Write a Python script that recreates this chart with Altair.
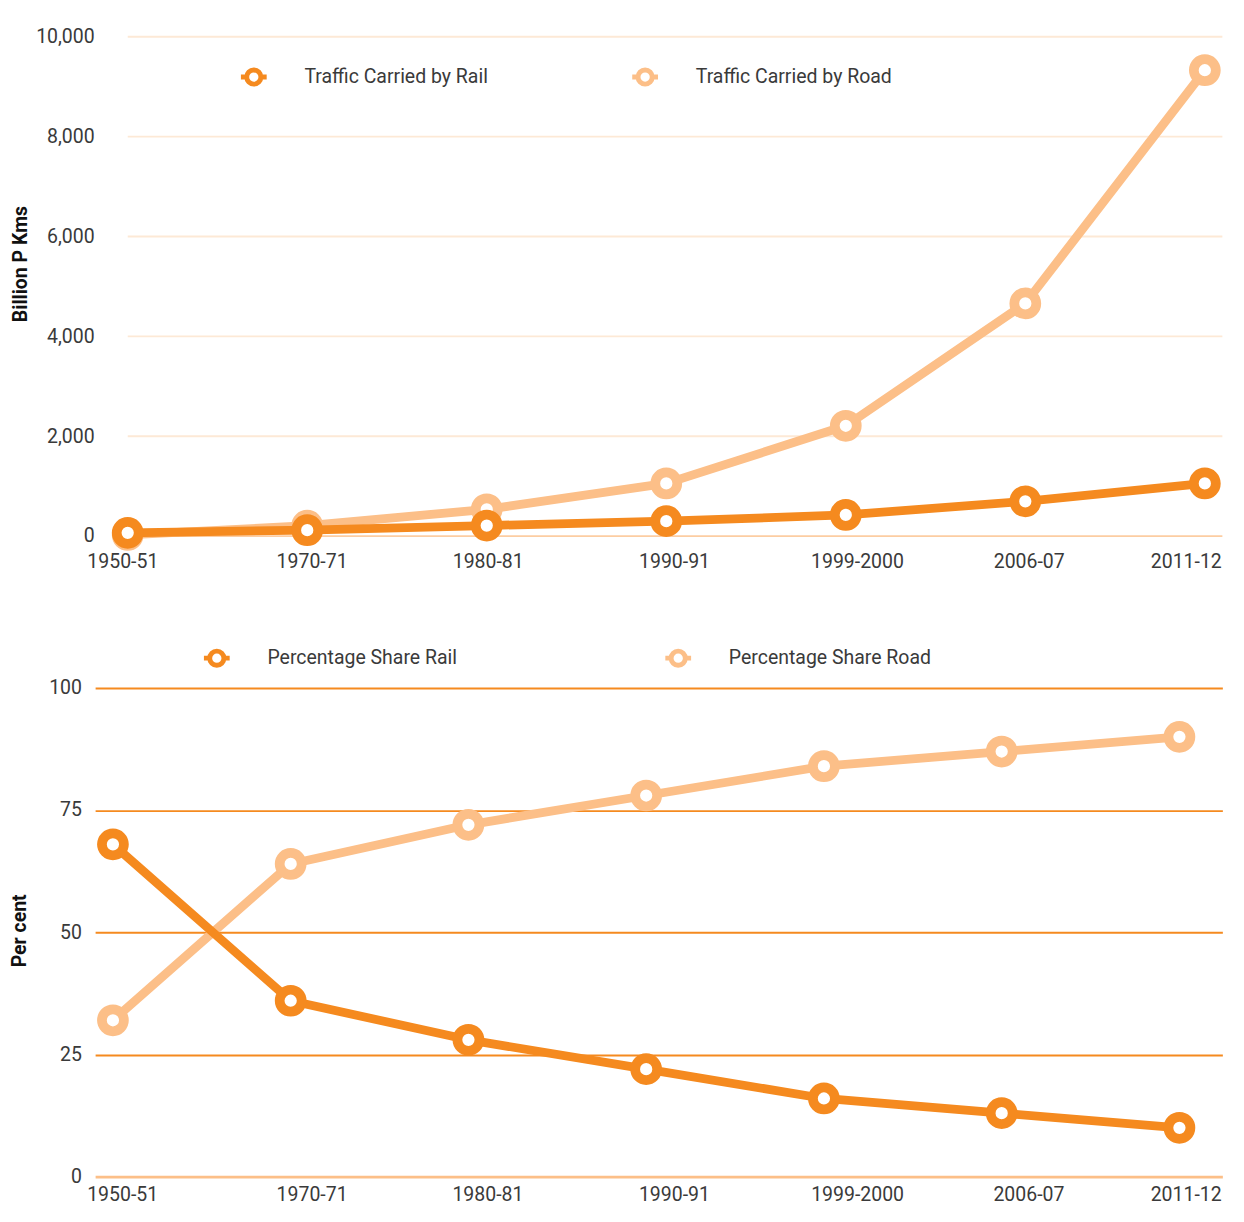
import altair as alt
import pandas as pd

periods = ["1950-51", "1970-71", "1980-81", "1990-91", "1999-2000", "2006-07", "2011-12"]
rail_bpkm = [66, 119, 212, 300, 425, 697, 1055]
road_bpkm = [23, 210, 537, 1055, 2210, 4660, 9330]
rail_share = [68, 36, 28, 22, 16, 13, 10]
road_share = [32, 64, 72, 78, 84, 87, 90]
top_series = ["Traffic Carried by Rail", "Traffic Carried by Road"]
bottom_series = ["Percentage Share Rail", "Percentage Share Road"]
top_ticks = [0, 2000, 4000, 6000, 8000, 10000]
bottom_ticks = [0, 25, 50, 75, 100]

RAIL = "#F58A1F"
ROAD = "#FCBF88"
GRID_LIGHT = "#FDE9D6"
ZERO_LIGHT = "#FCCDA2"
TEXT = "#3a3a3a"
FONT = "Roboto"

top_df = pd.DataFrame({
    "period": periods * 2,
    "value": rail_bpkm + road_bpkm,
    "series": [top_series[0]] * 7 + [top_series[1]] * 7,
})
bot_df = pd.DataFrame({
    "period": periods * 2,
    "value": rail_share + road_share,
    "series": [bottom_series[0]] * 7 + [bottom_series[1]] * 7,
})
grid_df = pd.DataFrame({"value": top_ticks})
label_df = pd.DataFrame({"period": periods})

SYM = ("M -1 0 L -0.55 0 M 0.55 0 L 1 0 "
       "M 0.55 0 A 0.55 0.55 0 1 1 -0.55 0 A 0.55 0.55 0 1 1 0.55 0 Z")

W = 1158
H_TOP = 513
H_BOT = 502

# label nudges (style only): horizontal shift of each period label from its point
TOP_DX = [-5, 5, 1.5, 8.5, 12, 4, 17.4]
BOT_DX = [10, 22, 20, 29, 34.6, 28, 43.4]


def make_legend(x, y, pad):
    return alt.Legend(
        title=None, orient="none", legendX=x, legendY=y, direction="horizontal",
        symbolType=SYM, symbolSize=700, symbolStrokeWidth=5, symbolFillColor="white",
        labelFontSize=20, labelFont=FONT, labelColor=TEXT, labelOffset=36, labelLimit=400,
        columnPadding=pad, symbolOpacity=1,
    )


def panel(df, series, yscale, yaxis, xscale, legend, pre_layers, label_y, dxs):
    x = alt.X("period:N", sort=periods, scale=xscale, axis=None)
    y = alt.Y("value:Q", scale=yscale, axis=yaxis)
    color = alt.Color("series:N", scale=alt.Scale(domain=series, range=[RAIL, ROAD]),
                      legend=legend)
    layers = list(pre_layers)
    for s in [series[1], series[0]]:
        base = alt.Chart(df).transform_filter(alt.datum.series == s)
        layers.append(base.mark_line(strokeWidth=9, strokeJoin="round").encode(x=x, y=y, color=color))
        layers.append(base.mark_point(shape="circle", filled=False, fill="white", size=510,
                                      strokeWidth=10, opacity=1).encode(x=x, y=y, color=color))
    for i, p in enumerate(periods):
        align = "right" if i == len(periods) - 1 else "center"
        layers.append(
            alt.Chart(label_df).transform_filter(alt.datum.period == p).mark_text(
                dx=dxs[i], align=align, baseline="middle", fontSize=20, font=FONT, color=TEXT
            ).encode(x=x, y=alt.value(label_y), text="period:N")
        )
    return alt.layer(*layers)


# ---------- top panel ----------
top_xscale = alt.Scale(type="point", domain=periods, padding=0.1396, align=0.650)
top_yscale = alt.Scale(domain=[0, 10000], nice=False)
top_yaxis = alt.Axis(values=top_ticks, labelExpr="format(datum.value, ',')",
                     grid=False, domain=False, ticks=False,
                     labelFontSize=20, labelPadding=1, title="Billion P Kms",
                     titleFontSize=20, titleFontWeight="bold", titlePadding=5, titleY=233)
grid_layer = alt.Chart(grid_df).mark_rule(strokeWidth=2).encode(
    y=alt.Y("value:Q", scale=top_yscale, axis=top_yaxis),
    x=alt.value(33.5), x2=alt.value(W),
    color=alt.condition("datum.value == 0", alt.value(ZERO_LIGHT), alt.value(GRID_LIGHT)),
)
top = panel(top_df, top_series, top_yscale, top_yaxis, top_xscale,
            make_legend(147, 25, 137), [grid_layer], H_TOP + 27, TOP_DX
            ).properties(width=W, height=H_TOP)

# ---------- bottom panel ----------
bot_xscale = alt.Scale(type="point", domain=periods, padding=0.1709, align=0.293)
bot_yscale = alt.Scale(domain=[0, 100], nice=False)
bot_yaxis = alt.Axis(
    values=bottom_ticks, grid=True, domain=False, ticks=False,
    gridColor={"condition": {"test": "datum.value == 0", "value": ROAD}, "value": RAIL},
    gridWidth={"condition": {"test": "datum.value == 0", "value": 3}, "value": 2},
    labelFontSize=20, labelPadding=14, title="Per cent",
    titleFontSize=20, titleFontWeight="bold", titlePadding=20, titleY=249,
)
bottom = panel(bot_df, bottom_series, bot_yscale, bot_yaxis, bot_xscale,
               make_legend(109, -47, 203), [], H_BOT + 19, BOT_DX
               ).properties(width=W, height=H_BOT)

chart = alt.vconcat(top, bottom, spacing=72).resolve_scale(
    color="independent", x="independent", y="independent"
).resolve_legend(color="independent").properties(
    padding={"left": 1.5, "top": 3, "right": 0, "bottom": 0}
).configure_view(stroke=None).configure_axis(
    labelFont=FONT, titleFont=FONT, labelColor=TEXT, titleColor="#111111",
).configure_legend(labelFont=FONT)

chart.save("out.html", embed_options={"renderer": "svg", "actions": False})
